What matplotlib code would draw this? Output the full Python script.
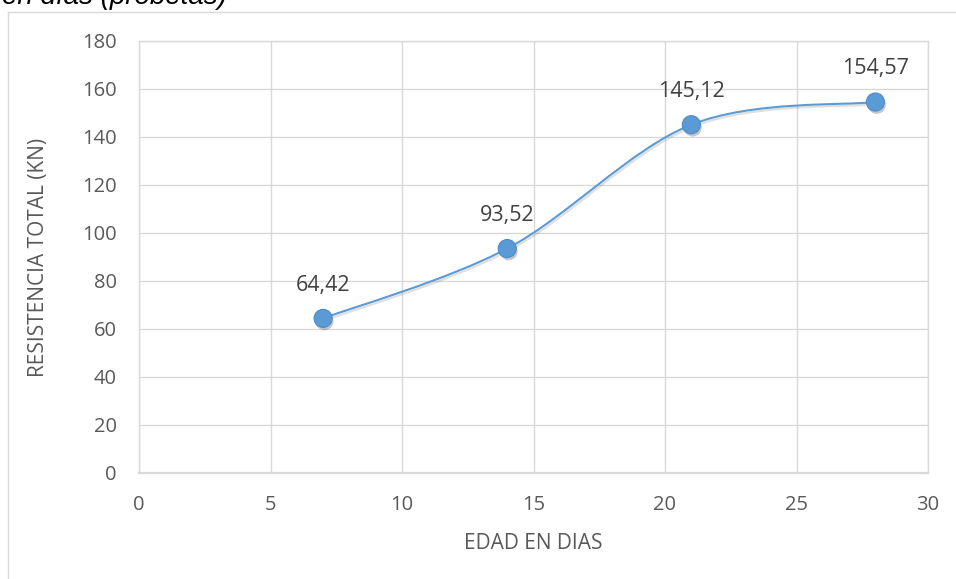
import numpy as np
import matplotlib
matplotlib.use("Agg")
import matplotlib.pyplot as plt
import matplotlib.patheffects as pe
from matplotlib.path import Path
from matplotlib.patches import PathPatch
from matplotlib.lines import Line2D

# ==========================================
# DATA
# ==========================================
edad_dias   = [7, 14, 21, 28]
resistencia = [64.42, 93.52, 145.12, 154.57]
etiquetas   = ["64,42", "93,52", "145,12", "154,57"]

x_ticks = [0, 5, 10, 15, 20, 25, 30]
y_ticks = [0, 20, 40, 60, 80, 100, 120, 140, 160, 180]

# ==========================================
# STYLE
# ==========================================
W, H       = 956, 579
DPI        = 100
FONT       = "Open Sans"
GRID_COL   = "#D9D9D9"
TEXT_COL   = "#595959"
LABEL_COL  = "#404040"
LINE_COL   = "#5B9BD5"

plt.rcParams["font.family"] = [FONT, "DejaVu Sans"]


def excel_smooth_path(xs, ys):
    # Excel-style smoothed line: cubic Bezier, control points at 1/6 of neighbour diff
    pts = np.column_stack([xs, ys]).astype(float)
    n = len(pts)
    verts = [pts[0]]
    codes = [Path.MOVETO]
    for i in range(n - 1):
        p0 = pts[i - 1] if i > 0 else pts[i]
        p1 = pts[i]
        p2 = pts[i + 1]
        p3 = pts[i + 2] if i + 2 < n else pts[i + 1]
        c1 = p1 + (p2 - p0) / 6.0
        c2 = p2 - (p3 - p1) / 6.0
        verts += [c1, c2, p2]
        codes += [Path.CURVE4] * 3
    return Path(verts, codes)


fig = plt.figure(figsize=(W / DPI, H / DPI), dpi=DPI, facecolor="white")
ax = fig.add_axes([139 / W, 1 - 473 / H, (928 - 139) / W, (473 - 41) / H])

# chart frame (left + top visible)
fig.add_artist(Line2D([8 / W, 8 / W], [0, 1 - 12 / H], transform=fig.transFigure,
                      color=GRID_COL, linewidth=1.0))
fig.add_artist(Line2D([8 / W, 1], [1 - 12 / H, 1 - 12 / H], transform=fig.transFigure,
                      color=GRID_COL, linewidth=1.0))

# cut-off caption at the very top
fig.text(2 / W, 1 - 4 / H, "en días (probetas)", fontsize=20, style="italic",
         family=["Liberation Sans", "DejaVu Sans"], color="black",
         ha="left", va="baseline")

ax.set_xlim(0, 30)
ax.set_ylim(0, 180)
ax.set_xticks(x_ticks)
ax.set_yticks(y_ticks)
ax.grid(True, color=GRID_COL, linewidth=1.0)
ax.set_axisbelow(True)
for side in ["top", "right", "left"]:
    ax.spines[side].set_color(GRID_COL)
    ax.spines[side].set_linewidth(1.0)
ax.spines["bottom"].set_color(GRID_COL)
ax.spines["bottom"].set_linewidth(1.6)

ax.tick_params(length=0, labelsize=14.5, labelcolor=TEXT_COL)
ax.tick_params(axis="y", pad=16)
ax.tick_params(axis="x", pad=16)

ax.set_xlabel("EDAD EN DIAS", fontsize=15, color=TEXT_COL, labelpad=13)
ax.set_ylabel("RESISTENCIA TOTAL (KN)", fontsize=15, color=TEXT_COL, labelpad=24)

# smoothed line
curve = PathPatch(excel_smooth_path(edad_dias, resistencia), facecolor="none",
                  edgecolor=LINE_COL, linewidth=1.5, zorder=3)
curve.set_path_effects([pe.SimpleLineShadow(offset=(1, -1.5), shadow_color="gray", alpha=0.25),
                        pe.Normal()])
ax.add_patch(curve)

# markers
mk = ax.plot(edad_dias, resistencia, linestyle="none", marker="o", markersize=13,
             markerfacecolor=LINE_COL, markeredgecolor="#4C8BCB", markeredgewidth=0.8,
             zorder=4, clip_on=False)[0]
mk.set_path_effects([pe.SimplePatchShadow(offset=(1, -2), shadow_rgbFace="black", alpha=0.22),
                     pe.Normal()])

# data labels
for x, y, lab in zip(edad_dias, resistencia, etiquetas):
    ax.annotate(lab, (x, y), xytext=(0, 24), textcoords="offset points",
                ha="center", va="center", fontsize=15.5, color=LABEL_COL, zorder=5)

fig.savefig("out.png", dpi=DPI, facecolor="white")
